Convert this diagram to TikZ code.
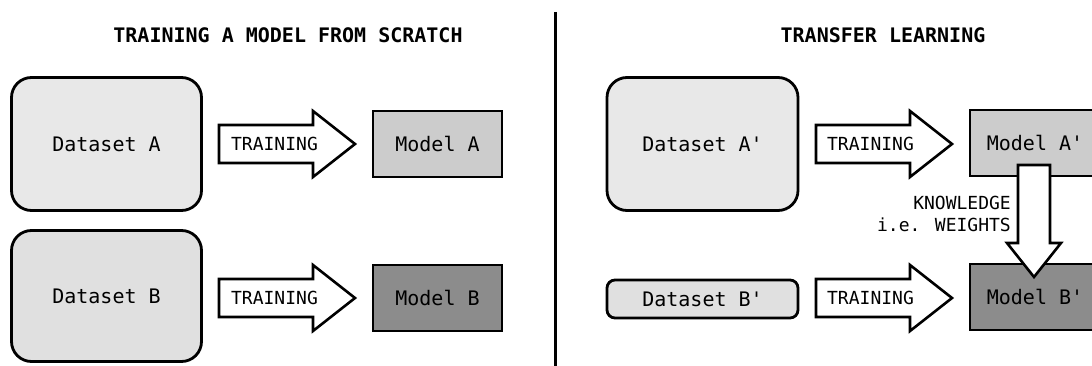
\documentclass[tikz,border=0pt]{standalone}
\usepackage{fontspec}
\newfontfamily\monofont[Ligatures=TeXOff]{DejaVu Sans Mono}
\definecolor{dsA}{HTML}{E8E8E8}
\definecolor{dsB}{HTML}{E0E0E0}
\definecolor{mdA}{HTML}{CCCCCC}
\definecolor{mdB}{HTML}{8C8C8C}
\begin{document}
\begin{tikzpicture}[x=1pt,y=-1pt,
  box/.style={draw=black, line width=2.8pt, inner sep=0pt, font=\monofont\fontsize{20}{24}\selectfont},
  dataset/.style={box, rounded corners=20pt, minimum width=190pt, minimum height=133pt},
  model/.style={box, minimum width=129pt, minimum height=66pt},
  blockarrow/.style={draw=black, line width=2.6pt, fill=white, line join=miter},
  small/.style={font=\monofont\fontsize{18}{22}\selectfont, inner sep=0pt},
  title/.style={font=\monofont\bfseries\fontsize{20}{24}\selectfont, inner sep=0pt},
  rarrow/.pic={\draw[blockarrow] (0,-19) -- (94,-19) -- (94,-33) -- (136,0) -- (94,33) -- (94,19) -- (0,19) -- cycle;},
  darrow/.pic={\draw[blockarrow] (-16,0) -- (16,0) -- (16,78) -- (27,78) -- (0,112) -- (-27,78) -- (-16,78) -- cycle;}
]
\clip (0,0) rectangle (1092,366);
\fill[white] (0,0) rectangle (1092,366);

% titles
\node[title] (t1) at (288,35) {TRAINING A MODEL FROM SCRATCH};
\node[title] (t2) at (883,35) {TRANSFER LEARNING};

% divider
\coordinate (divtop) at (555,12);
\coordinate (divbot) at (555,366);
\draw[line width=3pt] (divtop) -- (divbot);

% left side
\node[dataset, fill=dsA] (dA) at (106.5,144) {Dataset A};
\node[dataset, fill=dsB, minimum height=131pt] (dB) at (106.5,296) {Dataset B};
\pic at (219,144) {rarrow};
\node[small] (tA) at (274.5,144) {TRAINING};
\pic at (219,298) {rarrow};
\node[small] (tB) at (274.5,298) {TRAINING};
\node[model, fill=mdA] (mA) at (437.5,144) {Model A};
\node[model, fill=mdB] (mB) at (437.5,298) {Model B};

% right side
\node[dataset, fill=dsA, minimum width=191pt] (dAp) at (702.5,144) {Dataset A'};
\node[box, fill=dsB, rounded corners=8pt, minimum width=191pt, minimum height=38pt] (dBp) at (702.5,299) {Dataset B'};
\pic at (816,144) {rarrow};
\node[small] (tAp) at (870.5,144) {TRAINING};
\pic at (816,298) {rarrow};
\node[small] (tBp) at (870.5,298) {TRAINING};
\node[model, fill=mdA, minimum width=130pt] (mAp) at (1035,143) {Model A'};
\node[model, fill=mdB, minimum width=130pt] (mBp) at (1035,297) {Model B'};
\pic at (1034,165) {darrow};
\node[small, anchor=east] (k1) at (1011,203) {KNOWLEDGE};
\node[small, anchor=east] (k2) at (1011,225) {i.e. WEIGHTS};
\end{tikzpicture}
\end{document}
